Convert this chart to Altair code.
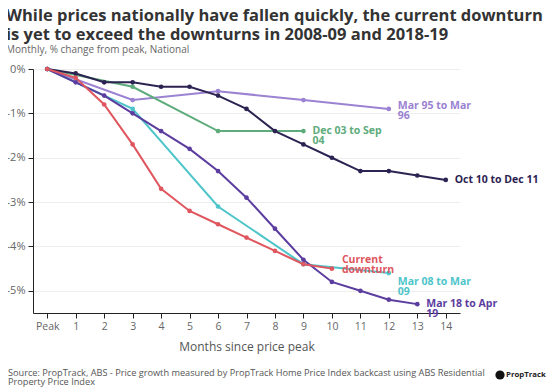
import altair as alt
import pandas as pd

# ---- data ----
months_monthly = list(range(0, 15))
months_quarterly = [0, 3, 6, 9, 12]

oct10_dec11 = [0, -0.1, -0.3, -0.3, -0.4, -0.4, -0.6, -0.9, -1.4, -1.7, -2.0, -2.3, -2.3, -2.4, -2.5]
mar95_mar96 = [0, -0.7, -0.5, -0.7, -0.9]
dec03_sep04 = [0, -0.4, -1.4, -1.4]
mar08_mar09 = [0, -0.9, -3.1, -4.4, -4.6]
current = [0, -0.2, -0.8, -1.7, -2.7, -3.2, -3.5, -3.8, -4.1, -4.4, -4.5]
mar18_apr19 = [0, -0.3, -0.6, -1.0, -1.4, -1.8, -2.3, -2.9, -3.6, -4.3, -4.8, -5.0, -5.2, -5.3]

series_names = ["Mar 95 to Mar 96", "Dec 03 to Sep 04", "Oct 10 to Dec 11",
                "Mar 08 to Mar 09", "Mar 18 to Apr 19", "Current downturn"]
series_labels = ["Mar 95 to Mar\n96", "Dec 03 to Sep\n04", "Oct 10 to Dec 11",
                 "Mar 08 to Mar\n09", "Mar 18 to Apr\n19", "Current\ndownturn"]
series_colors = ["#9b82d2", "#5eab7b", "#2c2352", "#4dc5ca", "#5b3c9f", "#e0565f"]

y_ticks = [0, -1, -2, -3, -4, -5]
x_ticks = list(range(0, 15))

rows = []
def add(name, xs, ys):
    for x, y in zip(xs, ys):
        rows.append({"series": name, "month": x, "value": y})

add("Mar 95 to Mar 96", months_quarterly, mar95_mar96)
add("Dec 03 to Sep 04", months_quarterly, dec03_sep04)
add("Oct 10 to Dec 11", months_monthly, oct10_dec11)
add("Mar 08 to Mar 09", months_quarterly, mar08_mar09)
add("Mar 18 to Apr 19", months_monthly, mar18_apr19)
add("Current downturn", months_monthly, current)
df = pd.DataFrame(rows)

# end labels from last point of each series
label_dy = {"Mar 95 to Mar 96": -3, "Dec 03 to Sep 04": 0, "Oct 10 to Dec 11": 0,
            "Mar 08 to Mar 09": 9, "Mar 18 to Apr 19": 0, "Current downturn": -9}
label_dx = {"Mar 95 to Mar 96": 9, "Dec 03 to Sep 04": 9, "Oct 10 to Dec 11": 9,
            "Mar 08 to Mar 09": 9, "Mar 18 to Apr 19": 9, "Current downturn": 10}
lab_rows = []
for name, lab in zip(series_names, series_labels):
    sub = df[df.series == name]
    last = sub.iloc[-1]
    lab_rows.append({"series": name, "label": lab, "month": last.month, "value": last.value})
labdf = pd.DataFrame(lab_rows)

color = alt.Color("series:N", scale=alt.Scale(domain=series_names, range=series_colors), legend=None)
FONT = "Open Sans"

x = alt.X("month:Q", scale=alt.Scale(domain=[-0.5, 14.5], nice=False, zero=False),
          axis=alt.Axis(values=x_ticks, title="Months since price peak", grid=False,
                        labelExpr="datum.value == 0 ? 'Peak' : datum.value",
                        labelOverlap=False,
                        domainColor="#222", tickColor="#222", tickSize=5,
                        labelColor="#666", labelFontSize=10.5, labelFont=FONT,
                        titleColor="#555", titleFontSize=12, titleFontWeight="normal",
                        titleFont=FONT, titlePadding=10, labelPadding=3))
y = alt.Y("value:Q", scale=alt.Scale(domain=[-5.5, 0], nice=False),
          axis=alt.Axis(values=y_ticks, title=None, labelExpr="datum.value + '%'",
                        grid=True, gridColor="#eeeeee", domainColor="#222",
                        tickColor="#222", tickSize=5, labelColor="#666",
                        labelFontSize=11, labelFont=FONT, labelPadding=3))

lines = alt.Chart(df).mark_line(strokeWidth=2).encode(x=x, y=y, color=color, detail="series:N")
pts = alt.Chart(df).mark_circle(size=22, opacity=1).encode(x=x, y=y, color=color)

label_layers = []
for name in series_names:
    label_layers.append(
        alt.Chart(labdf[labdf.series == name]).mark_text(
            align="left", baseline="middle", lineBreak="\n", font=FONT,
            fontWeight="bold", fontSize=10.5, dx=label_dx[name], dy=label_dy[name], lineHeight=10
        ).encode(x=x, y=y, text="label:N", color=color)
    )

footer = alt.Chart(pd.DataFrame({"t": ["Source: PropTrack, ABS - Price growth measured by PropTrack Home Price Index backcast using ABS Residential\nProperty Price Index"]})).mark_text(
    align="left", baseline="middle", lineBreak="\n", font=FONT, fontSize=9.2, color="#555", lineHeight=9.5
).encode(text="t:N", x=alt.value(-25), y=alt.value(303.5))

logo_dot = alt.Chart(pd.DataFrame({"a": [1]})).mark_circle(size=85, color="#111", opacity=1).encode(
    x=alt.value(467), y=alt.value(306))
logo_text = alt.Chart(pd.DataFrame({"t": ["PropTrack"]})).mark_text(
    align="left", baseline="middle", font=FONT, fontSize=7.8, fontWeight="bold", color="#222"
).encode(text="t:N", x=alt.value(473), y=alt.value(306))

chart = alt.layer(lines, pts, *label_layers, footer, logo_dot, logo_text).properties(
    width=427, height=244,
    autosize=alt.AutoSizeParams(type="none"),
    padding={"left": 25, "top": 61, "right": 86, "bottom": 75},
    title=alt.TitleParams(
        text=["While prices nationally have fallen quickly, the current downturn",
              "is yet to exceed the downturns in 2008-09 and 2018-19"],
        subtitle="Monthly, % change from peak, National",
        anchor="start", offset=8, font=FONT, fontSize=16.5, fontWeight="bold",
        color="#333", lineHeight=19, subtitleFont=FONT, subtitleFontSize=10,
        subtitleColor="#666", subtitlePadding=2)
).configure_view(stroke=None)

chart.save("out.html", embed_options={"renderer": "svg", "actions": False})
